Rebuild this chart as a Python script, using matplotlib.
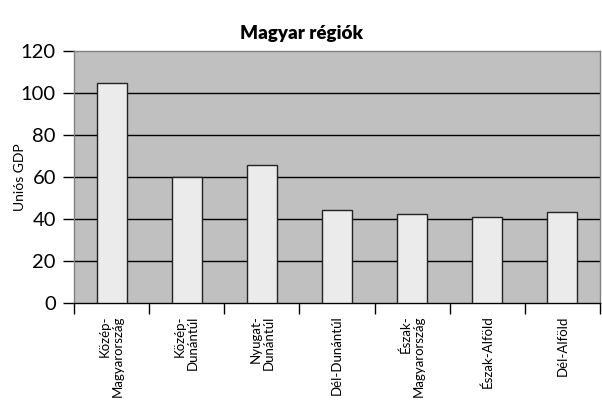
import matplotlib
matplotlib.use("Agg")
import matplotlib.pyplot as plt
import numpy as np

plt.rcParams['font.family'] = ['Lato', 'DejaVu Sans']

categories = ["Közép-\nMagyarország", "Közép-\nDunántúl", "Nyugat-\nDunántúl",
              "Dél-Dunántúl", "Észak-\nMagyarország", "Észak-Alföld", "Dél-Alföld"]
values = [105, 60, 65.5, 44.5, 42.2, 40.8, 43.5]
yticks = [0, 20, 40, 60, 80, 100, 120]

fig = plt.figure(figsize=(6.02, 4.01), dpi=100)
ax = fig.add_axes([74/602, 1 - 303/401, 526/602, 252/401])
ax.set_facecolor('#c0c0c0')

x = np.arange(len(categories))
ax.bar(x, values, width=0.4, color='#ebebeb', edgecolor='#222222', linewidth=1.0, zorder=3)

ax.set_xlim(-0.5, len(categories) - 0.5)
ax.set_ylim(0, 120)
ax.set_yticks(yticks)
ax.set_yticklabels([str(v) for v in yticks], fontsize=14.5)
for v in yticks[1:-1]:
    ax.axhline(v, color='black', linewidth=1.0, zorder=1)

ax.set_xticks(x)
ax.set_xticklabels(categories, rotation=90, fontsize=9.5, va='top', ha='center',
                   multialignment='right', linespacing=1.1)
ax.tick_params(axis='x', which='major', length=0, pad=9)
ax.set_xticks(np.arange(-0.5, len(categories) + 0.5, 1.0), minor=True)
ax.tick_params(axis='x', which='minor', length=8, direction='out', color='black', width=1)
ax.tick_params(axis='y', length=8, direction='out', color='black', width=1, pad=5)

ax.spines['bottom'].set_color('black')
ax.spines['bottom'].set_linewidth(1.0)
for s in ['left', 'top', 'right']:
    ax.spines[s].set_color('#808080')
    ax.spines[s].set_linewidth(1.0)

fig.text(20/602, 1 - 177/401, "Uniós GDP", rotation=90, ha='center', va='center', fontsize=10)
fig.text(0.5, 1 - 33/401, "Magyar régiók", ha='center', va='center', fontsize=13.5, fontweight='heavy')

fig.savefig("out.png", dpi=100)
